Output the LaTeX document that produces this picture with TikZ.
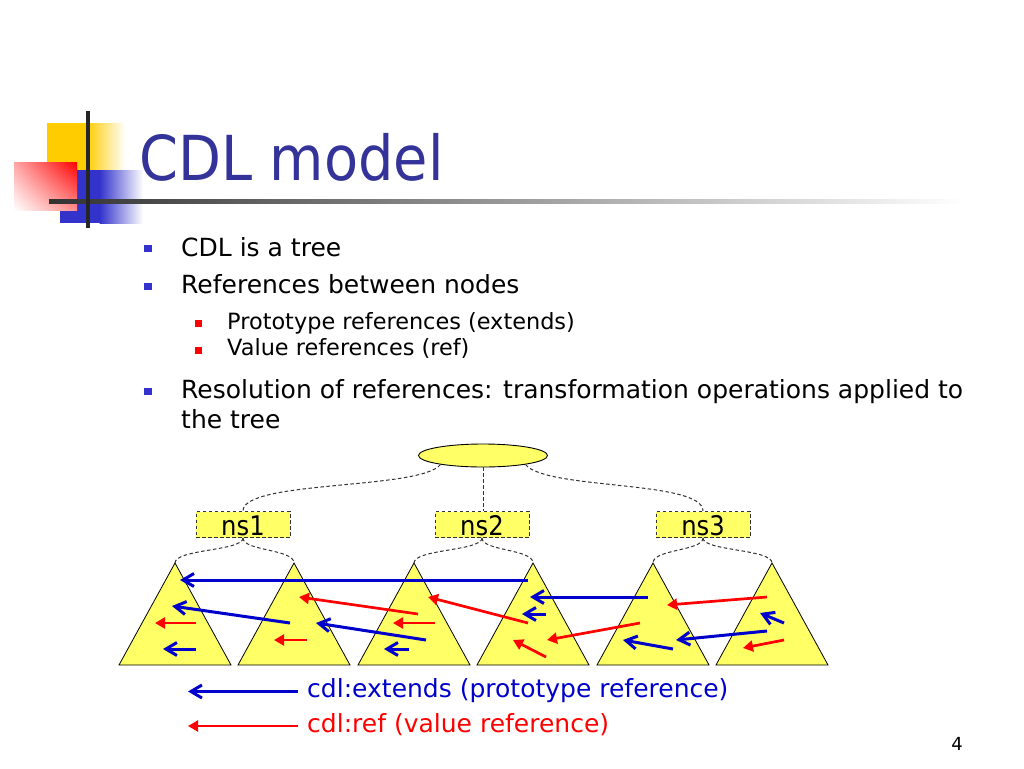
\documentclass[tikz,border=0pt]{standalone}
\usepackage{fontspec}
\setmainfont{DejaVu Sans}
\newfontfamily\titlefont{DejaVu Sans}[FakeStretch=0.9]
\usetikzlibrary{arrows.meta,shapes.geometric,shadings}
\definecolor{titleblue}{RGB}{51,51,153}
\definecolor{bulblue}{RGB}{51,51,204}
\definecolor{arrblue}{RGB}{0,0,204}
\definecolor{arrred}{RGB}{255,0,0}
\definecolor{fillyel}{RGB}{255,255,102}
\definecolor{logoyel}{RGB}{255,204,0}
\definecolor{linegray}{RGB}{50,50,50}
\definecolor{dashgray}{RGB}{50,50,50}
\tikzset{
  txt/.style={anchor=base west, inner sep=0pt, font=\fontsize{25}{30}\selectfont},
  subtxt/.style={anchor=base west, inner sep=0pt, font=\fontsize{22.4}{26}\selectfont},
  bulA/.style={fill=bulblue, minimum width=8pt, minimum height=7pt, inner sep=0pt},
  bulB/.style={fill=arrred, minimum width=7pt, minimum height=7pt, inner sep=0pt},
  dashline/.style={draw=dashgray, line width=1pt, dash pattern=on 3.5pt off 2.5pt},
  nsbox/.style={draw=dashgray, dash pattern=on 3.5pt off 2.5pt, line width=1pt, fill=fillyel,
     minimum width=94pt, inner xsep=0pt, inner ysep=2pt, text height=22pt, text depth=0pt,
     font=\titlefont\fontsize{27}{30}\selectfont, anchor=base},
  tri/.style={draw=black, line width=0.8pt, fill=fillyel, line join=miter},
  bluearr/.style={draw=arrblue, line width=3pt, -{Straight Barb[length=11pt,width=13pt]}},
  redarr/.style={draw=arrred, line width=2.7pt, -{Triangle[length=10pt,width=11pt]}},
}
\begin{document}
\begin{tikzpicture}[x=1pt,y=-1pt]
\useasboundingbox (0,0) rectangle (1024,768);
\fill[white] (0,0) rectangle (1024,768);
% ---- logo ----
\fill[logoyel] (47,123) rectangle (87,185);
\shade[left color=logoyel, right color=white] (86.5,123) rectangle (125,185);
\fill[bulblue] (60,170) rectangle (100,223);
\shade[left color=bulblue, right color=white] (99.5,170) rectangle (143,223);
\shade[upper right=arrred, upper left=arrred!35, lower right=arrred!45, lower left=white] (14,162) rectangle (77,210);
\shade[left color=linegray, right color=white] (49,199) rectangle (965,203.5);
\fill[black!85] (85.5,111) rectangle (89.5,228);
% ---- title ----
\node[anchor=base west, inner sep=0pt, text=titleblue, font=\titlefont\fontsize{62}{70}\selectfont] (title) at (139,180) {CDL model};
% ---- bullets ----
\node[bulA] (b1) at (148,248.5) {};
\node[txt] (l1) at (181,256) {CDL is a tree};
\node[bulA] (b2) at (148,286) {};
\node[txt] (l2) at (181,293) {References between nodes};
\node[bulB] (b3) at (198.5,323.5) {};
\node[subtxt] (l3) at (227,329) {Prototype references (extends)};
\node[bulB] (b4) at (198.5,350) {};
\node[subtxt] (l4) at (227,355) {Value references (ref)};
\node[bulA] (b5) at (148,391) {};
\node[txt] (l5) at (181,398) {Resolution of references: transformation operations applied to};
\node[txt] (l6) at (181,428) {the tree};
% ---- tree ----
\node[ellipse, draw=black, line width=0.9pt, fill=fillyel, minimum width=129pt, minimum height=23pt, inner sep=0pt] (root) at (483,455.5) {};
\node[nsbox] (ns1) at (243,535.5) {ns1};
\node[nsbox] (ns2) at (482,535.5) {ns2};
\node[nsbox] (ns3) at (703,535.5) {ns3};
\draw[dashline] (root.192) .. controls (420,490) and (243,480) .. (ns1.north);
\draw[dashline] (root.south) -- (ns2.north -| root.south);
\draw[dashline] (root.348) .. controls (546,490) and (703,480) .. (ns3.north);
\foreach \n/\x in {1/175,2/294,3/414,4/533,5/653,6/772}{
  \coordinate (t\n) at (\x,563);
  \filldraw[tri] (t\n) -- ++(56,102) -- ++(-112,0) -- cycle;
}
\foreach \p/\a/\b in {ns1/t1/t2, ns2/t3/t4, ns3/t5/t6}{
  \draw[dashline] (\p.south) .. controls +(0,13) and +(0,-14) .. (\a);
  \draw[dashline] (\p.south) .. controls +(0,13) and +(0,-14) .. (\b);
}
% ---- reference arrows ----
\foreach \n/\sx/\sy/\ex/\ey in {1/528/580/180/580, 2/290/623/172/606, 3/196/649/163/649,
  4/426/640/316/623, 5/409/649/384/649, 6/648/597/530/597,
  7/546/614/522/614, 8/673/649/623/640, 9/767/631/676/640,
  10/784/623/760/613}{
  \coordinate (bs\n) at (\sx,\sy); \coordinate (be\n) at (\ex,\ey);
  \draw[bluearr] (bs\n) -- (be\n);
}
\foreach \n/\sx/\sy/\ex/\ey in {1/196/623/155/623, 2/418/614/299/597, 3/307/640/274/640,
  4/435/623/393/623, 5/528/623/428/597, 6/640/623/547/640,
  7/546/657/513/640, 8/767/597/667/605, 9/784/640/743/648}{
  \coordinate (rs\n) at (\sx,\sy); \coordinate (re\n) at (\ex,\ey);
  \draw[redarr] (rs\n) -- (re\n);
}
% ---- legend ----
\coordinate (lbs) at (298,691.5); \coordinate (lbe) at (188,691.5);
\coordinate (lrs) at (298,726); \coordinate (lre) at (188,726);
\draw[bluearr] (lbs) -- (lbe);
\draw[redarr, line width=2.2pt] (lrs) -- (lre);
\node[anchor=base west, inner sep=0pt, text=arrblue, font=\fontsize{25}{28}\selectfont] (leg1) at (307,697) {cdl:extends (prototype reference)};
\node[anchor=base west, inner sep=0pt, text=arrred, font=\fontsize{25}{28}\selectfont] (leg2) at (307,732) {cdl:ref (value reference)};
% ---- page number ----
\node[anchor=base, inner sep=0pt, font=\fontsize{18}{20}\selectfont] (pg) at (957,750) {4};
\end{tikzpicture}
\end{document}
